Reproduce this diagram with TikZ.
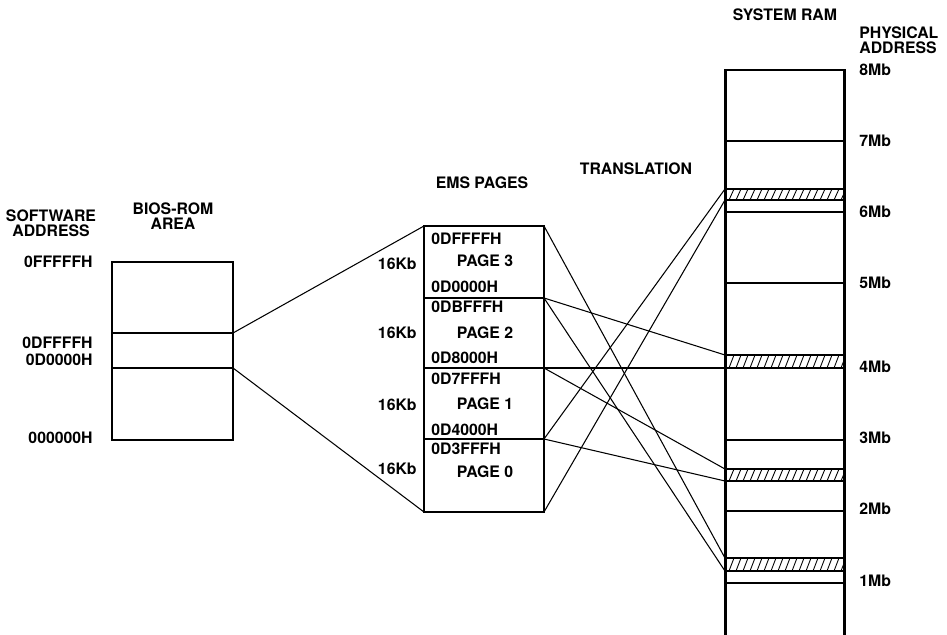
\documentclass[tikz,border=0pt]{standalone}
\usepackage{fontspec}
\setmainfont{TeX Gyre Heros}
\begin{document}
\begin{tikzpicture}[x=0.02cm,y=-0.02cm,
	every node/.style={inner sep=0pt,font=\bfseries\fontsize{9}{8.6}\selectfont},
	box/.style={line width=1.7pt},
	rule/.style={line width=0.6pt},
	link/.style={line width=0.6pt},
	hatch/.style={line width=0.5pt}]
	\useasboundingbox (0,0) rectangle (947,635);
	% headings
	\node [align=center] (swaddr) at (51,223) {SOFTWARE\\ADDRESS};
	\node [align=center] (biosarea) at (173,216) {BIOS-ROM\\AREA};
	\node (emspages) at (482,183) {EMS PAGES};
	\node (translation) at (636,169) {TRANSLATION};
	\node (sysram) at (785,15) {SYSTEM RAM};
	\node [align=left,anchor=west] (physaddr) at (859,40) {PHYSICAL\\ADDRESS};
	% software addresses
	\node [anchor=east] (a0fffff) at (93,262) {0FFFFFH};
	\node [anchor=east] (a0dffff) at (93,343) {0DFFFFH};
	\node [anchor=east] (a0d0000) at (93,360) {0D0000H};
	\node [anchor=east] (a000000) at (93,438) {000000H};
	% bios-rom area
	\draw [box] (112,262) rectangle (233,440);
	\draw [rule] (112,333) -- (233,333);
	\draw [rule] (112,368) -- (233,368);
	\coordinate (biostop) at (233,333);
	\coordinate (biosbot) at (233,368);
	% ems pages
	\draw [box] (424,226) rectangle (544,512);
	\draw [rule] (424,298) -- (544,298);
	\draw [rule] (424,368) -- (544,368);
	\draw [rule] (424,439) -- (544,439);
	\coordinate (emstl) at (424,226);
	\coordinate (emsbl) at (424,512);
	\coordinate (e3t) at (544,226);
	\coordinate (e3b) at (544,298);
	\coordinate (e2b) at (544,368);
	\coordinate (e1b) at (544,439);
	\coordinate (e0b) at (544,512);
	\node [anchor=west] (p3hi) at (431,239) {0DFFFFH};
	\node (page3) at (485,261) {PAGE 3};
	\node [anchor=west] (p3lo) at (431,287) {0D0000H};
	\node [anchor=west] (p2hi) at (431,307) {0DBFFFH};
	\node (page2) at (485,333) {PAGE 2};
	\node [anchor=west] (p2lo) at (431,358) {0D8000H};
	\node [anchor=west] (p1hi) at (431,379) {0D7FFFH};
	\node (page1) at (485,404) {PAGE 1};
	\node [anchor=west] (p1lo) at (431,430) {0D4000H};
	\node [anchor=west] (p0hi) at (431,449) {0D3FFFH};
	\node (page0) at (485,472) {PAGE 0};
	\node [anchor=east] (kb3) at (417,264) {16Kb};
	\node [anchor=east] (kb2) at (417,333) {16Kb};
	\node [anchor=east] (kb1) at (417,405) {16Kb};
	\node [anchor=east] (kb0) at (417,469) {16Kb};
	% system ram
	\draw [box] (725,635) -- (725,70) -- (844,70) -- (844,635);
	\foreach \y in {141,212,283,440,511,583}
		\draw [rule] (725,\y) -- (844,\y);
	\foreach \ya/\yb in {189/200,355/368,469/481,558/571}{
		\draw [rule] (725,\ya) -- (844,\ya) (725,\yb) -- (844,\yb);
		\begin{scope}
			\clip (725,\ya) rectangle (844,\yb);
			\foreach \x in {722,729,...,850}
				\draw [hatch] (\x,\yb) -- (\x+5,\ya);
		\end{scope}
	}
	\coordinate (r0t) at (725,189);
	\coordinate (r0b) at (725,200);
	\coordinate (r2t) at (725,355);
	\coordinate (r2b) at (725,368);
	\coordinate (r1t) at (725,469);
	\coordinate (r1b) at (725,481);
	\coordinate (r3t) at (725,558);
	\coordinate (r3b) at (725,571);
	% physical addresses
	\node [anchor=west] (mb8) at (859,70) {8Mb};
	\node [anchor=west] (mb7) at (859,141) {7Mb};
	\node [anchor=west] (mb6) at (859,212) {6Mb};
	\node [anchor=west] (mb5) at (859,283) {5Mb};
	\node [anchor=west] (mb4) at (859,367) {4Mb};
	\node [anchor=west] (mb3) at (859,438) {3Mb};
	\node [anchor=west] (mb2) at (859,509) {2Mb};
	\node [anchor=west] (mb1) at (859,581) {1Mb};
	% window into ems pages
	\draw [link] (biostop) -- (emstl);
	\draw [link] (biosbot) -- (emsbl);
	% translation
	\draw [link] (e3t) -- (r3t);
	\draw [link] (e3b) -- (r3b);
	\draw [link] (e3b) -- (r2t);
	\draw [link] (e2b) -- (r2b);
	\draw [link] (e2b) -- (r1t);
	\draw [link] (e1b) -- (r1b);
	\draw [link] (e1b) -- (r0t);
	\draw [link] (e0b) -- (r0b);
\end{tikzpicture}
\end{document}
